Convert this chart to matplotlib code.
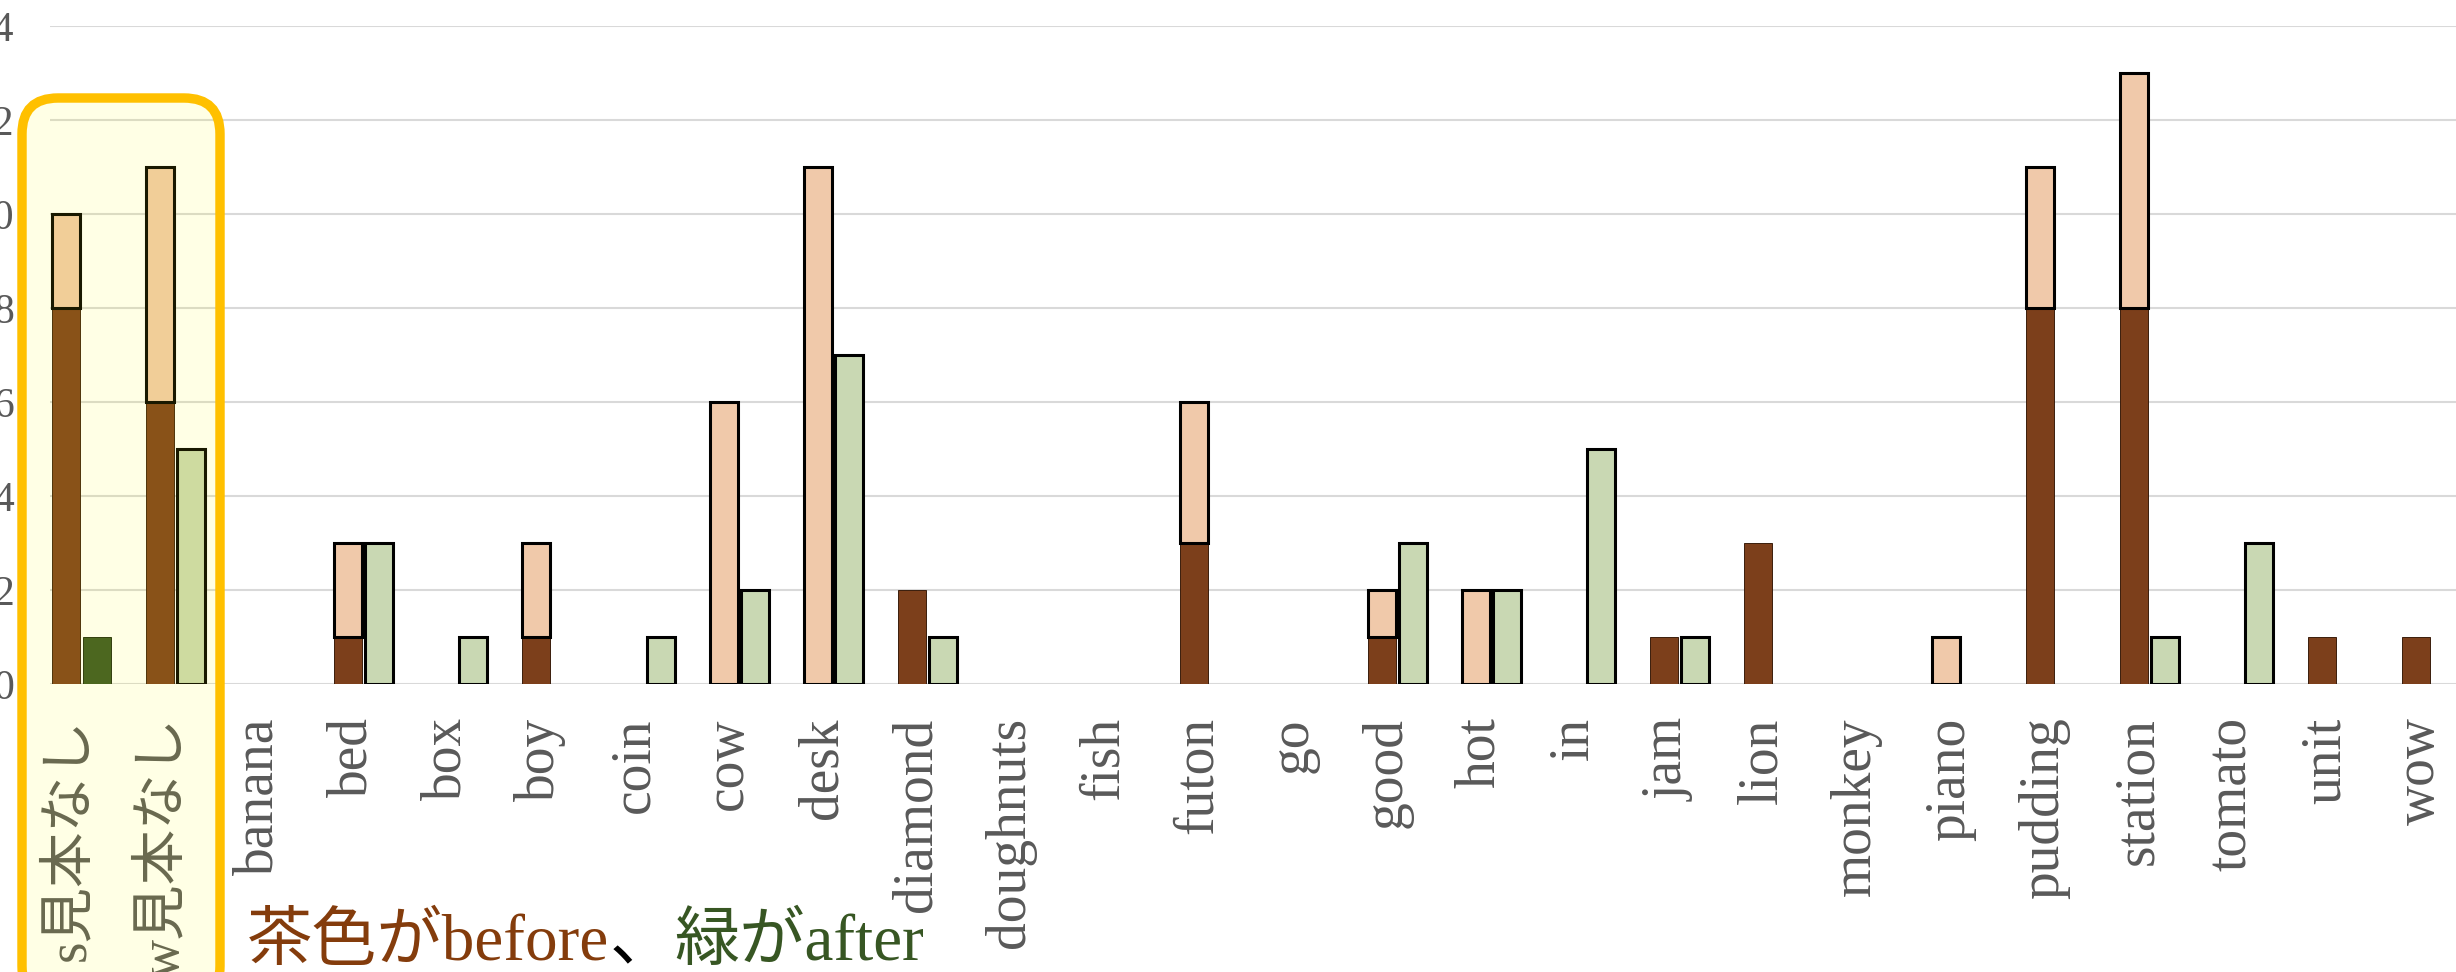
import numpy as np
import matplotlib
matplotlib.use("Agg")
import matplotlib.pyplot as plt
from matplotlib.patches import FancyBboxPatch
from matplotlib.transforms import IdentityTransform

plt.rcParams['font.family'] = ['Liberation Serif', 'Noto Sans CJK JP']

# データ
categories = ['s見本なし', 'w見本なし', 'banana', 'bed', 'box', 'boy', 'coin', 'cow',
              'desk', 'diamond', 'doughnuts', 'fish', 'futon', 'go', 'good', 'hot',
              'in', 'jam', 'lion', 'monkey', 'piano', 'pudding', 'station', 'tomato',
              'unit', 'wow']
before_dark = [8, 6, 0, 1, 0, 1, 0, 0, 0, 2, 0, 0, 3, 0, 1, 0, 0, 1, 3, 0, 0, 8, 8, 0, 1, 1]
before_light = [2, 5, 0, 2, 0, 2, 0, 6, 11, 0, 0, 0, 3, 0, 1, 2, 0, 0, 0, 0, 1, 3, 5, 0, 0, 0]
after_dark = [1, 0, 0, 0, 0, 0, 0, 0, 0, 0, 0, 0, 0, 0, 0, 0, 0, 0, 0, 0, 0, 0, 0, 0, 0, 0]
after_light = [0, 5, 0, 3, 1, 0, 1, 2, 7, 1, 0, 0, 0, 0, 3, 2, 5, 1, 0, 0, 0, 0, 1, 3, 0, 0]
yticks = [0, 2, 4, 6, 8, 10, 12, 14]

# 色
c_brown = '#7C3F1B'
c_peach = '#F0C9AA'
c_green_dark = '#385623'
c_green_light = '#C9D8B3'
c_text = '#595959'

W, H = 2456, 972
fig = plt.figure(figsize=(W / 100, H / 100), dpi=100)
ax = fig.add_axes([50 / W, 1 - 684 / H, 1 - 50 / W, (684 - 26) / H])

x = np.arange(len(categories))
bw = 0.29
off = 0.165


def edges(vals, color):
    # 高さ0の棒は枠線を描かない
    return [color if v > 0 else 'none' for v in vals]


bd = np.array(before_dark)
bl = np.array(before_light)
ad = np.array(after_dark)
al = np.array(after_light)

ax.bar(x - off, bd, bw, color=c_brown, edgecolor=edges(bd, '#3a1d0c'), linewidth=0.7, zorder=3)
ax.bar(x - off, bl, bw, bottom=bd, color=c_peach, edgecolor=edges(bl, 'black'), linewidth=2.2, zorder=4)
ax.bar(x + off, ad, bw, color=c_green_dark, edgecolor=edges(ad, '#1c2a10'), linewidth=0.7, zorder=3)
ax.bar(x + off, al, bw, bottom=ad, color=c_green_light, edgecolor=edges(al, 'black'), linewidth=2.2, zorder=4)

ax.set_xlim((50 - 81.5) / 94, (W - 81.5) / 94)
ax.set_ylim(0, 14)
ax.set_yticks(yticks)
ax.set_yticklabels([str(v) for v in yticks], fontsize=30, color=c_text)
ax.set_xticks(x - 0.12)
ax.set_xticklabels(categories, rotation=90, fontsize=40, color=c_text, va='top', ha='center')
ax.tick_params(axis='y', length=0, pad=26)
ax.tick_params(axis='x', length=0, pad=24)
ax.yaxis.grid(True, color='#D9D9D9', linewidth=1.5, zorder=0)
ax.set_axisbelow(True)
for s in ax.spines.values():
    s.set_visible(False)

# 黄色の枠
box = FancyBboxPatch((22, -30), 198, 904, boxstyle="round,pad=0,rounding_size=36",
                     facecolor=(1, 1, 0, 0.1), edgecolor='#FFC000', linewidth=6.8,
                     transform=IdentityTransform(), zorder=10)
fig.add_artist(box)

# 説明文
t1 = fig.text(247 / W, 12 / H, '茶色がbefore', fontsize=47, color='#843C0C', va='baseline', ha='left')
t2 = ax.annotate('、', xy=(1, 0), xycoords=t1, fontsize=47, color='black', va='bottom', ha='left',
                 annotation_clip=False)
t3 = ax.annotate('緑がafter', xy=(1, 0), xycoords=t2, fontsize=47, color='#375623', va='bottom',
                 ha='left', annotation_clip=False)

fig.savefig('out.png', dpi=100)
